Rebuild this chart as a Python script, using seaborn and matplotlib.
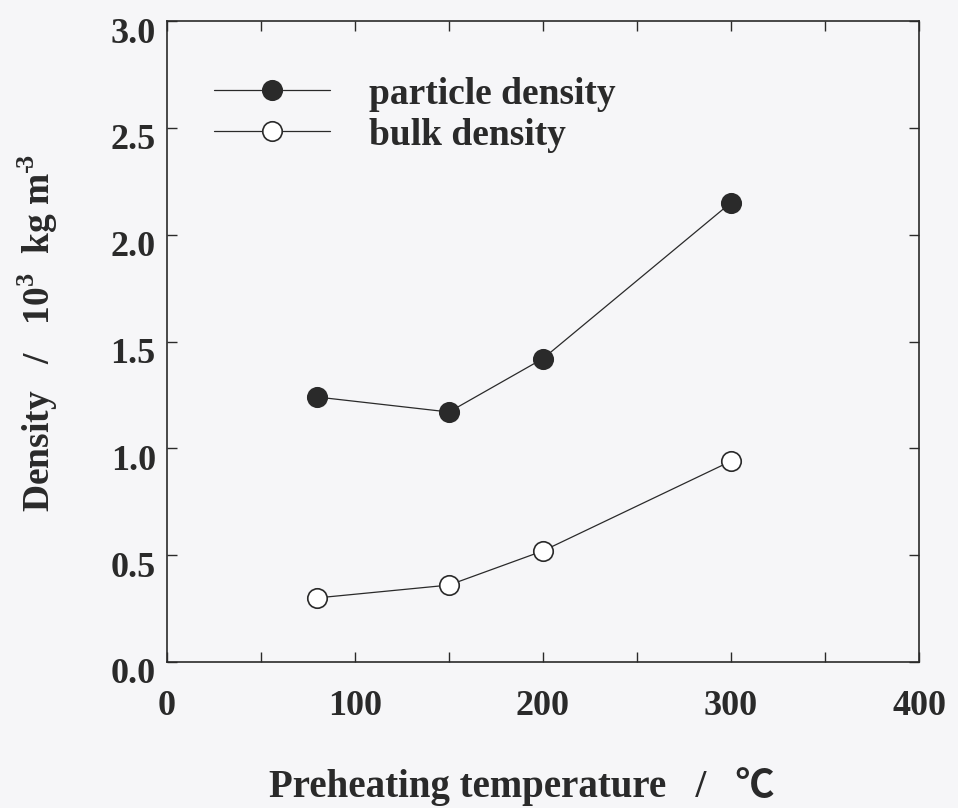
import matplotlib
matplotlib.use("Agg")
import matplotlib.pyplot as plt
import matplotlib.transforms as mtransforms
import seaborn as sns
import pandas as pd
from matplotlib.ticker import MultipleLocator
from matplotlib.lines import Line2D

# Preheating temperature (°C) and densities (10^3 kg m^-3)
temperature = [80, 150, 200, 300]
particle_density = [1.24, 1.17, 1.42, 2.15]
bulk_density = [0.30, 0.36, 0.52, 0.94]
series_names = ["particle density", "bulk density"]

x_ticks = [0, 100, 200, 300, 400]
y_ticks = [0.0, 0.5, 1.0, 1.5, 2.0, 2.5, 3.0]

sns.set_theme(style="ticks")
plt.rcParams["font.family"] = ["Liberation Serif", "Noto Sans CJK JP", "DejaVu Serif"]
plt.rcParams["font.weight"] = "bold"
plt.rcParams["mathtext.fontset"] = "custom"
plt.rcParams["mathtext.rm"] = "Liberation Serif:bold"
plt.rcParams["mathtext.bf"] = "Liberation Serif:bold"

ink = "#2a2a2a"
paper = "#f6f6f8"

df = pd.DataFrame({
    "temperature": temperature * 2,
    "density": particle_density + bulk_density,
    "series": [series_names[0]] * 4 + [series_names[1]] * 4,
})

fig = plt.figure(figsize=(9.58, 8.08), dpi=100, facecolor=paper)
ax = fig.add_axes([0.1743, 0.1807, 0.785, 0.7933])
ax.set_facecolor(paper)

face = {series_names[0]: ink, series_names[1]: "white"}
for name in series_names:
    sub = df[df["series"] == name]
    sns.lineplot(data=sub, x="temperature", y="density", ax=ax,
                 color=ink, linewidth=0.9, marker="o", markersize=14,
                 markerfacecolor=face[name], markeredgecolor=ink,
                 markeredgewidth=1.2, legend=False)

ax.set_xlim(0, 400)
ax.set_ylim(0, 3.0)
ax.set_xticks(x_ticks)
ax.set_yticks(y_ticks)
ax.xaxis.set_minor_locator(MultipleLocator(50))
ax.set_xticklabels([str(v) for v in x_ticks])
ax.set_yticklabels([f"{v:.1f}" for v in y_ticks])

ax.tick_params(axis="both", which="both", direction="in", top=True, right=True,
               length=7, width=1.0, color=ink, labelcolor=ink, labelsize=26)
ax.tick_params(axis="x", which="major", pad=20)
ax.tick_params(axis="y", which="major", pad=8)
for sp in ax.spines.values():
    sp.set_color(ink)
    sp.set_linewidth(1.2)

# y tick labels sit slightly below their ticks
shift = mtransforms.ScaledTranslation(0, -0.09, fig.dpi_scale_trans)
for lbl in ax.get_yticklabels():
    lbl.set_transform(lbl.get_transform() + shift)

ax.set_xlabel("Preheating temperature   /   ℃", fontsize=28, color=ink,
              fontweight="bold")
ax.xaxis.set_label_coords(0.472, -0.164)
ax.set_ylabel("Density   /   10$^{3}$  kg m$^{\u2010\\!3}$", fontsize=27, color=ink,
              fontweight="bold")
ax.yaxis.set_label_coords(-0.142, 0.512)

handles = [
    Line2D([], [], color=ink, linewidth=0.9, marker="o", markersize=14,
           markerfacecolor=face[n], markeredgecolor=ink, markeredgewidth=1.2)
    for n in series_names
]
leg = ax.legend(handles, series_names, loc="upper left",
                bbox_to_anchor=(0.017, 0.966), frameon=False, fontsize=27,
                handlelength=3.1, handletextpad=1.05, labelspacing=0.16,
                labelcolor=ink)

fig.savefig("out.png", dpi=100, facecolor=paper)
